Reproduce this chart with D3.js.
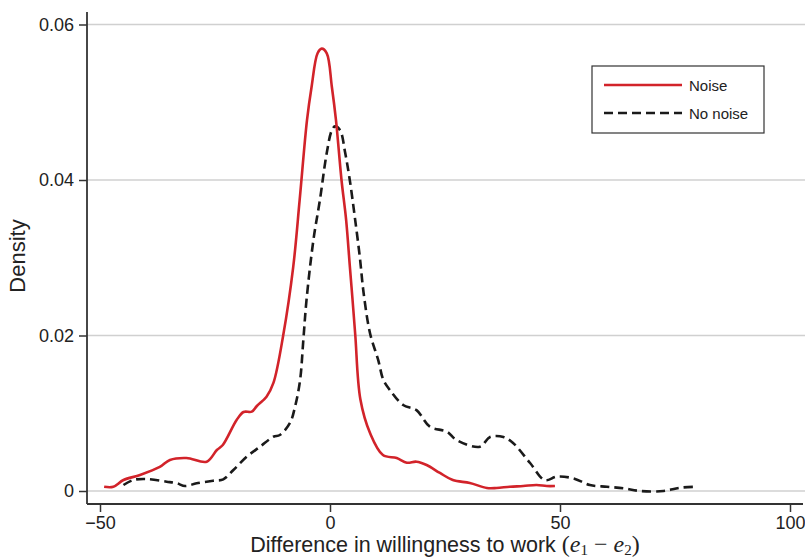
<!DOCTYPE html>
<html>
<head>
<meta charset="utf-8">
<script src="https://cdn.jsdelivr.net/npm/d3@7"></script>
<style>
  body { margin: 0; background: #fff; }
  svg text { font-family: "Liberation Sans", Arial, sans-serif; fill: #222; }
</style>
</head>
<body>
<div id="chart"></div>
<script>
var svgWidth = 805;
var svgHeight = 560;

// density estimates: [difference, density]
var noiseX = [-49.1, -47.1, -44.9, -41.3, -37.0, -34.8, -31.2, -26.8, -24.6, -23.3, -20.3, -18.8, -17.0, -15.9,
  -13.8, -12.3, -10.15, -8.0, -6.6, -5.0, -4.0, -2.7, -1.8, -0.7, 0.4, 1.3, 2.5, 3.5, 4.3, 4.9, 5.5, 6.6,
  8.7, 11.5, 14.5, 16.7, 18.8, 21.0, 23.9, 26.7, 30.4, 34.1, 36.2, 39.1, 42.0, 44.9, 47.1, 48.9];
var noiseY = [0.00055, 0.00055, 0.00141, 0.00206, 0.00309, 0.00399, 0.00424, 0.00377, 0.00527, 0.00592, 0.00913,
  0.01016, 0.0102, 0.01093, 0.01213, 0.0139, 0.0201, 0.0288, 0.0374, 0.0477, 0.0520, 0.0563, 0.0569, 0.0563,
  0.0520, 0.0477, 0.0400, 0.0349, 0.0290, 0.0246, 0.0200, 0.0118, 0.00746, 0.00463, 0.00424,
  0.00364, 0.00377, 0.00334, 0.00232, 0.00141, 0.00103, 0.00039, 0.00039, 0.00055, 0.00064, 0.00077, 0.00064, 0.00064];

var noNoiseX = [-44.9, -42.8, -39.8, -35.5, -33.3, -31.5, -29.0, -25.4, -23.2, -21.0, -18.1, -15.2, -12.3, -10.9,
  -8.7, -7.6, -6.5, -5.8, -5.1, -3.6, -2.2, -0.7, 0.4, 1.1, 2.2, 3.3, 4.3, 5.4, 6.5, 7.3, 8.7, 10.5, 11.6, 13.0,
  15.9, 18.8, 21.7, 25.4, 27.5, 32.6, 34.8, 37.7, 39.8, 43.5, 46.7, 49.3, 52.9, 56.5, 60.2, 63.8, 67.4, 72.5, 76.1, 79.7];
var noNoiseY = [0.00077, 0.00141, 0.00154, 0.0012, 0.00099, 0.00064, 0.00099, 0.00132, 0.0015, 0.0027, 0.00441,
  0.0057, 0.00698, 0.0072, 0.00875, 0.01084, 0.01428, 0.0194, 0.0246, 0.0323, 0.0374, 0.0435, 0.0464, 0.0469,
  0.0464, 0.0435, 0.0400, 0.0352, 0.0300, 0.0255, 0.0203, 0.0168, 0.01428, 0.0130,
  0.01106, 0.0104, 0.00827, 0.00763, 0.00656, 0.0057, 0.00695, 0.00695, 0.00617, 0.0036, 0.00141, 0.00184,
  0.00163, 0.00077, 0.00055, 0.00035, 0, 0, 0.00042, 0.00055];

var xTicks = [-50, 0, 50, 100];
var yTicks = [0, 0.02, 0.04, 0.06];
var seriesNames = ["Noise", "No noise"];

var redColor = "#d2232a";
var axisColor = "#333";

var svg = d3.select("#chart")
  .append("svg")
  .attr("width", svgWidth)
  .attr("height", svgHeight);

var xScale = d3.scaleLinear().domain([-50, 100]).range([100, 790]);
var yScale = d3.scaleLinear().domain([0, 0.06]).range([491, 24.5]);

var plotLeft = 87, plotRight = 805, axisY = 504, axisTop = 12;

// gridlines
svg.append("g")
  .selectAll("line")
  .data(yTicks)
  .enter()
  .append("line")
  .attr("x1", plotLeft)
  .attr("x2", plotRight)
  .attr("y1", d => yScale(d))
  .attr("y2", d => yScale(d))
  .attr("stroke", "#d0d0d0")
  .attr("stroke-width", 1.5);

// y axis
var yAxis = d3.axisLeft(yScale)
  .tickValues(yTicks)
  .tickSize(8)
  .tickPadding(5)
  .tickFormat(d => d === 0 ? "0" : d3.format(".2f")(d));

var yG = svg.append("g")
  .attr("transform", `translate(${plotLeft},0)`)
  .call(yAxis);
yG.select(".domain").remove();
yG.selectAll(".tick line").attr("stroke", axisColor).attr("stroke-width", 1.5);
yG.selectAll(".tick text").attr("font-size", "18px").attr("fill", "#222")
  .attr("font-family", "Liberation Sans, Arial, sans-serif");
svg.append("line")
  .attr("x1", plotLeft).attr("x2", plotLeft)
  .attr("y1", axisTop).attr("y2", axisY)
  .attr("stroke", axisColor).attr("stroke-width", 1.8);

// x axis
var xAxis = d3.axisBottom(xScale)
  .tickValues(xTicks)
  .tickSize(8)
  .tickPadding(4)
  .tickFormat(d => d < 0 ? "\u2212" + Math.abs(d) : d);

var xG = svg.append("g")
  .attr("transform", `translate(0,${axisY})`)
  .call(xAxis);
xG.select(".domain").remove();
xG.selectAll(".tick line").attr("stroke", axisColor).attr("stroke-width", 1.5);
xG.selectAll(".tick text").attr("font-size", "18px").attr("fill", "#222")
  .attr("font-family", "Liberation Sans, Arial, sans-serif");
svg.append("line")
  .attr("x1", plotLeft).attr("x2", 803)
  .attr("y1", axisY).attr("y2", axisY)
  .attr("stroke", axisColor).attr("stroke-width", 1.8);

// axis titles
svg.append("text")
  .attr("transform", "translate(25,256) rotate(-90)")
  .attr("text-anchor", "middle")
  .attr("font-size", "22px")
  .text("Density");

var xTitle = svg.append("text")
  .attr("x", 445)
  .attr("y", 552)
  .attr("text-anchor", "middle")
  .attr("font-size", "21.5px");
xTitle.append("tspan").text("Difference in willingness to work ");
var serif = "Liberation Serif, Times New Roman, serif";
xTitle.append("tspan").attr("font-family", serif).attr("font-size", "24px").text("(");
xTitle.append("tspan").attr("font-family", serif).attr("font-style", "italic").attr("font-size", "24px").text("e");
xTitle.append("tspan").attr("font-family", serif).attr("font-size", "15px").attr("dy", 3).text("1");
xTitle.append("tspan").attr("font-family", serif).attr("font-size", "24px").attr("dy", -3).text(" \u2212 ");
xTitle.append("tspan").attr("font-family", serif).attr("font-style", "italic").attr("font-size", "24px").text("e");
xTitle.append("tspan").attr("font-family", serif).attr("font-size", "15px").attr("dy", 3).text("2");
xTitle.append("tspan").attr("font-family", serif).attr("font-size", "24px").attr("dy", -3).text(")");

// curves
var line = d3.line()
  .x(d => xScale(d[0]))
  .y(d => yScale(d[1]))
  .curve(d3.curveCatmullRom.alpha(0.5));

var noNoise = noNoiseX.map((x, i) => [x, noNoiseY[i]]);
var noise = noiseX.map((x, i) => [x, noiseY[i]]);

svg.append("path")
  .datum(noNoise)
  .attr("d", line)
  .attr("fill", "none")
  .attr("stroke", "#1a1a1a")
  .attr("stroke-width", 2.6)
  .attr("stroke-dasharray", "9,5");

svg.append("path")
  .datum(noise)
  .attr("d", line)
  .attr("fill", "none")
  .attr("stroke", redColor)
  .attr("stroke-width", 2.6);

// legend
var legend = svg.append("g");
legend.append("rect")
  .attr("x", 592).attr("y", 66)
  .attr("width", 172).attr("height", 67)
  .attr("fill", "#fff")
  .attr("stroke", axisColor)
  .attr("stroke-width", 1.2);

var legendStyles = [
  { color: redColor, dash: null },
  { color: "#1a1a1a", dash: "9,5" }
];
seriesNames.forEach(function(name, i) {
  var y = 85 + i * 28;
  legend.append("line")
    .attr("x1", 604).attr("x2", 682)
    .attr("y1", y).attr("y2", y)
    .attr("stroke", legendStyles[i].color)
    .attr("stroke-width", 2.6)
    .attr("stroke-dasharray", legendStyles[i].dash);
  legend.append("text")
    .attr("x", 689)
    .attr("y", y + 5.5)
    .attr("font-size", "15px")
    .text(name);
});
</script>
</body>
</html>
